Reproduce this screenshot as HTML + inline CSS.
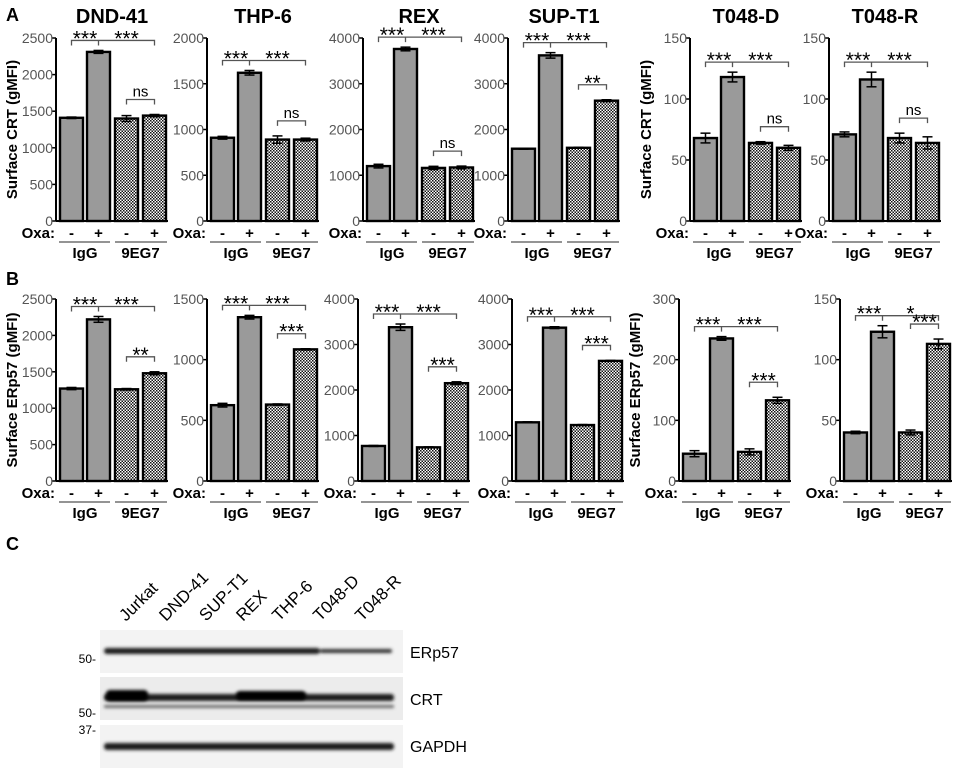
<!DOCTYPE html>
<html><head><meta charset="utf-8">
<style>
html,body{margin:0;padding:0;background:#fff;}
svg{display:block;font-family:"Liberation Sans",Arial,sans-serif;}
</style></head>
<body>
<svg id="fig" width="956" height="773" viewBox="0 0 956 773" xmlns="http://www.w3.org/2000/svg">
<defs>
<pattern id="check" width="3" height="3" patternUnits="userSpaceOnUse">
<rect width="3" height="3" fill="#fff"/><rect width="1.5" height="1.5" fill="#111"/><rect x="1.5" y="1.5" width="1.5" height="1.5" fill="#111"/>
</pattern>
<filter id="blur" x="-20%" y="-100%" width="140%" height="300%"><feGaussianBlur stdDeviation="1.6"/></filter>
</defs>
<text x="6" y="21" font-size="18" font-weight="bold">A</text>
<text x="6" y="285" font-size="18" font-weight="bold">B</text>
<text x="6" y="550" font-size="18" font-weight="bold">C</text>
<g id="charts"></g>
<g id="blot">
 <rect x="100" y="630" width="303" height="43" fill="#f3f3f3"/>
 <rect x="100" y="677" width="303" height="43" fill="#ececec"/>
 <rect x="100" y="725" width="303" height="43" fill="#f3f3f3"/>
 <g filter="url(#blur)" fill="#1a1a1a">
  <rect x="104" y="648" width="216" height="6" rx="3"/>
  <rect x="320" y="649" width="72" height="4" rx="2" fill="#333"/>
  <rect x="104" y="694" width="290" height="7" rx="3"/>
  <rect x="104" y="705" width="290" height="3" rx="1" fill="#666"/>
  <rect x="104" y="743" width="290" height="7" rx="3"/>
 </g>
 <g filter="url(#blur)" fill="#000">
  <rect x="106" y="690" width="42" height="11" rx="4"/>
  <rect x="236" y="691" width="70" height="9" rx="4"/>
 </g>
 <text x="410" y="658" font-size="16">ERp57</text>
 <text x="410" y="705" font-size="16">CRT</text>
 <text x="410" y="752" font-size="16">GAPDH</text>
 <text x="96" y="663" font-size="12" text-anchor="end">50-</text>
 <text x="96" y="717" font-size="12" text-anchor="end">50-</text>
 <text x="96" y="734" font-size="12" text-anchor="end">37-</text>
</g>
</svg>
<script>
const panels = ['DND-41','THP-6','REX','SUP-T1','T048-D','T048-R'];
const crtValues = [[1410,2310,1400,1440],[910,1620,890,890],[1200,3760,1160,1170],[1580,3620,1600,2630],[68,118,64,60],[71,116,68,64]];
const crtErrors = [[10,20,40,15],[15,25,40,15],[40,40,35,30],[10,60,10,20],[4,4,1,2],[2,6,4,5]];
const crtYMax = [2500,2000,4000,4000,150,150];
const crtTickStep = [500,500,1000,1000,50,50];
const crtSig = [['***','***','ns'],['***','***','ns'],['***','***','ns'],['***','***','**'],['***','***','ns'],['***','***','ns']];
const erpValues = [[1270,2220,1260,1480],[625,1350,630,1085],[770,3380,740,2150],[1290,3370,1230,2640],[45,235,48,133],[40,123,40,113]];
const erpErrors = [[15,40,10,20],[15,15,5,5],[10,70,10,30],[10,20,10,10],[5,3,5,5],[1,5,2,4]];
const erpYMax = [2500,1500,4000,4000,300,150];
const erpTickStep = [500,500,1000,1000,100,50];
const erpSig = [['***','***','**'],['***','***','***'],['***','***','***'],['***','***','***'],['***','***','***'],['***','*','***']];
const laneLabels = ['Jurkat','DND-41','SUP-T1','REX','THP-6','T048-D','T048-R'];

const NS='http://www.w3.org/2000/svg';
const root=document.getElementById('charts');
function mk(tag,attrs,parent){const e=document.createElementNS(NS,tag);for(const k in attrs)e.setAttribute(k,attrs[k]);(parent||root).appendChild(e);return e;}
const rowA={axis:[56,207,363,508,690,829],top:38,bottom:221};
const rowB={axis:[56,207,358,512,679,840],top:299,bottom:481};
const barOff=[4,31,59,87], BW=23;

function drawChart(row,i,vals,errs,ymax,step,sig,ylabel,title,prefix){
  const ax=row.axis[i], top=row.top, bot=row.bottom;
  const y=v=>bot-(v/ymax)*(bot-top);
  const g=mk('g',{});
  
  
  if(title){const t=mk('text',{x:ax+56,y:23,'font-size':20,'font-weight':'bold','text-anchor':'middle'},g);t.textContent=title;
    }
  if(ylabel){const cy=(top+bot)/2;const t=mk('text',{x:ax-39,y:cy,'font-size':15,'font-weight':'bold','text-anchor':'middle',transform:`rotate(-90 ${ax-39} ${cy})`},g);t.textContent=ylabel;
    }
  for(let v=0;v<=ymax;v+=step){
    mk('line',{x1:ax-4,x2:ax,y1:y(v),y2:y(v),stroke:'#000','stroke-width':1.5},g);
    const t=mk('text',{x:ax-3,y:y(v)+5,'font-size':14,fill:'#555','text-anchor':'end'},g);t.textContent=v;
    
  }
  vals.forEach((v,k)=>{
    const x=ax+barOff[k];
    const r=mk('rect',{x:x,y:y(v),width:BW,height:bot-y(v),fill:k<2?'#9a9a9a':'url(#check)',stroke:'#000','stroke-width':2.4},g);
    
    const cx=x+BW/2,e=errs[k];
    mk('line',{x1:cx,x2:cx,y1:y(v-e),y2:y(v+e),stroke:'#000','stroke-width':1.5},g);
    mk('line',{x1:cx-5,x2:cx+5,y1:y(v+e),y2:y(v+e),stroke:'#000','stroke-width':1.5},g);
    mk('line',{x1:cx-5,x2:cx+5,y1:y(v-e),y2:y(v-e),stroke:'#000','stroke-width':1.5},g);
  });
  mk('line',{x1:ax,x2:ax,y1:top,y2:bot,stroke:'#000','stroke-width':2},g);
  mk('line',{x1:ax,x2:ax+112,y1:bot,y2:bot,stroke:'#000','stroke-width':2},g);
  const c=k=>ax+barOff[k]+BW/2;
  const by=y(vals[1]+errs[1])-10;
  mk('path',{d:`M${c(0)},${by+5}V${by}H${c(3)}V${by+5}M${c(1)},${by}v5`,stroke:'#555',fill:'none','stroke-width':1.3},g);
  [(c(0)+c(1))/2,(c(1)+c(3))/2].forEach((mx,j)=>{const t=mk('text',{x:mx,y:by+(sig[j]==='ns'?-3:5),'font-size':sig[j]==='ns'?15:21,'text-anchor':'middle'},g);t.textContent=sig[j];
    });
  const b2=y(Math.max(vals[2]+errs[2],vals[3]+errs[3]))-15;
  mk('path',{d:`M${c(2)},${b2+5}V${b2}H${c(3)}V${b2+5}`,stroke:'#555',fill:'none','stroke-width':1.3},g);
  const t2=mk('text',{x:(c(2)+c(3))/2,y:b2+(sig[2]==='ns'?-3:5),'font-size':sig[2]==='ns'?15:21,'text-anchor':'middle'},g);t2.textContent=sig[2];
  
  const oy=bot+17;
  const ox=mk('text',{x:ax-1,y:oy,'font-size':15,'font-weight':'bold','text-anchor':'end'},g);ox.textContent='Oxa:';
  
  ['-','+','-','+'].forEach((s,k)=>{const t=mk('text',{x:c(k),y:oy,'font-size':15,'font-weight':'bold','text-anchor':'middle'},g);t.textContent=s;});
  mk('line',{x1:ax+3,x2:ax+54,y1:bot+21,y2:bot+21,stroke:'#555','stroke-width':1.3},g);
  mk('line',{x1:ax+59,x2:ax+111,y1:bot+21,y2:bot+21,stroke:'#555','stroke-width':1.3},g);
  const l1=mk('text',{x:(c(0)+c(1))/2,y:bot+37,'font-size':15,'font-weight':'bold','text-anchor':'middle'},g);l1.textContent='IgG';
  
  const l2=mk('text',{x:(c(2)+c(3))/2,y:bot+37,'font-size':15,'font-weight':'bold','text-anchor':'middle'},g);l2.textContent='9EG7';
  
}
panels.forEach((p,i)=>{
  drawChart(rowA,i,crtValues[i],crtErrors[i],crtYMax[i],crtTickStep[i],crtSig[i],(i===0||i===4)?'Surface CRT (gMFI)':null,p,'crt');
  drawChart(rowB,i,erpValues[i],erpErrors[i],erpYMax[i],erpTickStep[i],erpSig[i],(i===0||i===4)?'Surface ERp57 (gMFI)':null,null,'erp57');
});
const laneX=[126,166,206,243,279,320,362];
const blot=document.getElementById('blot');
laneLabels.forEach((l,k)=>{
  const t=mk('text',{x:laneX[k],y:622,'font-size':17,transform:`rotate(-45 ${laneX[k]} 622)`},blot);
  t.textContent=l;
  
  
});
</script>
</body></html>
